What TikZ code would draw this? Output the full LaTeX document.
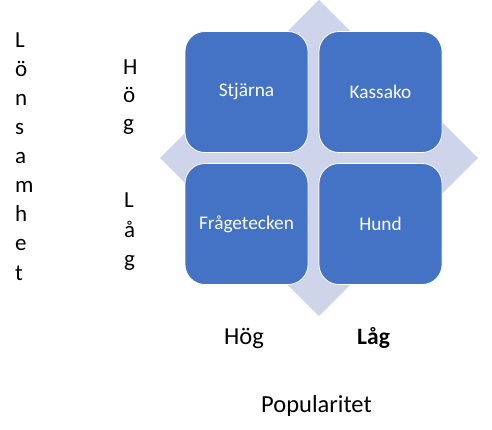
\documentclass[tikz,border=0pt]{standalone}
\usepackage{fontspec}
\setmainfont{Carlito}
\definecolor{boxblue}{HTML}{4472C4}
\definecolor{diamondgray}{HTML}{CED4EA}
\begin{document}
\begin{tikzpicture}[x=1pt,y=-1pt,
  quad/.style={draw=white, line width=0.8pt, fill=boxblue, rounded corners=20pt,
    minimum width=123pt, minimum height=121pt, inner sep=0pt, text=white,
    font=\fontsize{19.3}{23}\selectfont},
  axislbl/.style={anchor=base west, inner sep=0pt, font=\fontsize{23}{27}\selectfont},
  bottomlbl/.style={anchor=base west, inner sep=0pt, font=\fontsize{24.5}{29}\selectfont}]
\useasboundingbox (0,0) rectangle (492,430);
\fill[white] (0,0) rectangle (492,430);
\fill[diamondgray] (319,0) -- (478,158) -- (319,316) -- (160,158) -- cycle;
\node[quad] (stjarna) at (246.5,92) {Stjärna};
\node[quad] (kassako) at (380.5,92) {Kassako};
\node[quad] (fragetecken) at (246.5,224) {Frågetecken};
\node[quad] (hund) at (380.5,224) {Hund};
% vertical axis label
\foreach \ch [count=\i] in {L,ö,n,s,a,m,h,e,t}
  \node[axislbl] (lon\i) at (15,{48+29*(\i-1)}) {\ch};
\foreach \ch [count=\i] in {H,ö,g}
  \node[axislbl] (hogv\i) at (123,{75+28*(\i-1)}) {\ch};
\foreach \ch [count=\i] in {L,å,g}
  \node[axislbl] (lagv\i) at (124,{208+29*(\i-1)}) {\ch};
% horizontal axis labels
\node[bottomlbl] (hogh) at (224,344) {Hög};
\node[bottomlbl, font=\fontsize{23.5}{28}\selectfont\bfseries] (lagh) at (357,344) {Låg};
\node[bottomlbl] (popularitet) at (261,412) {Popularitet};
\end{tikzpicture}
\end{document}
